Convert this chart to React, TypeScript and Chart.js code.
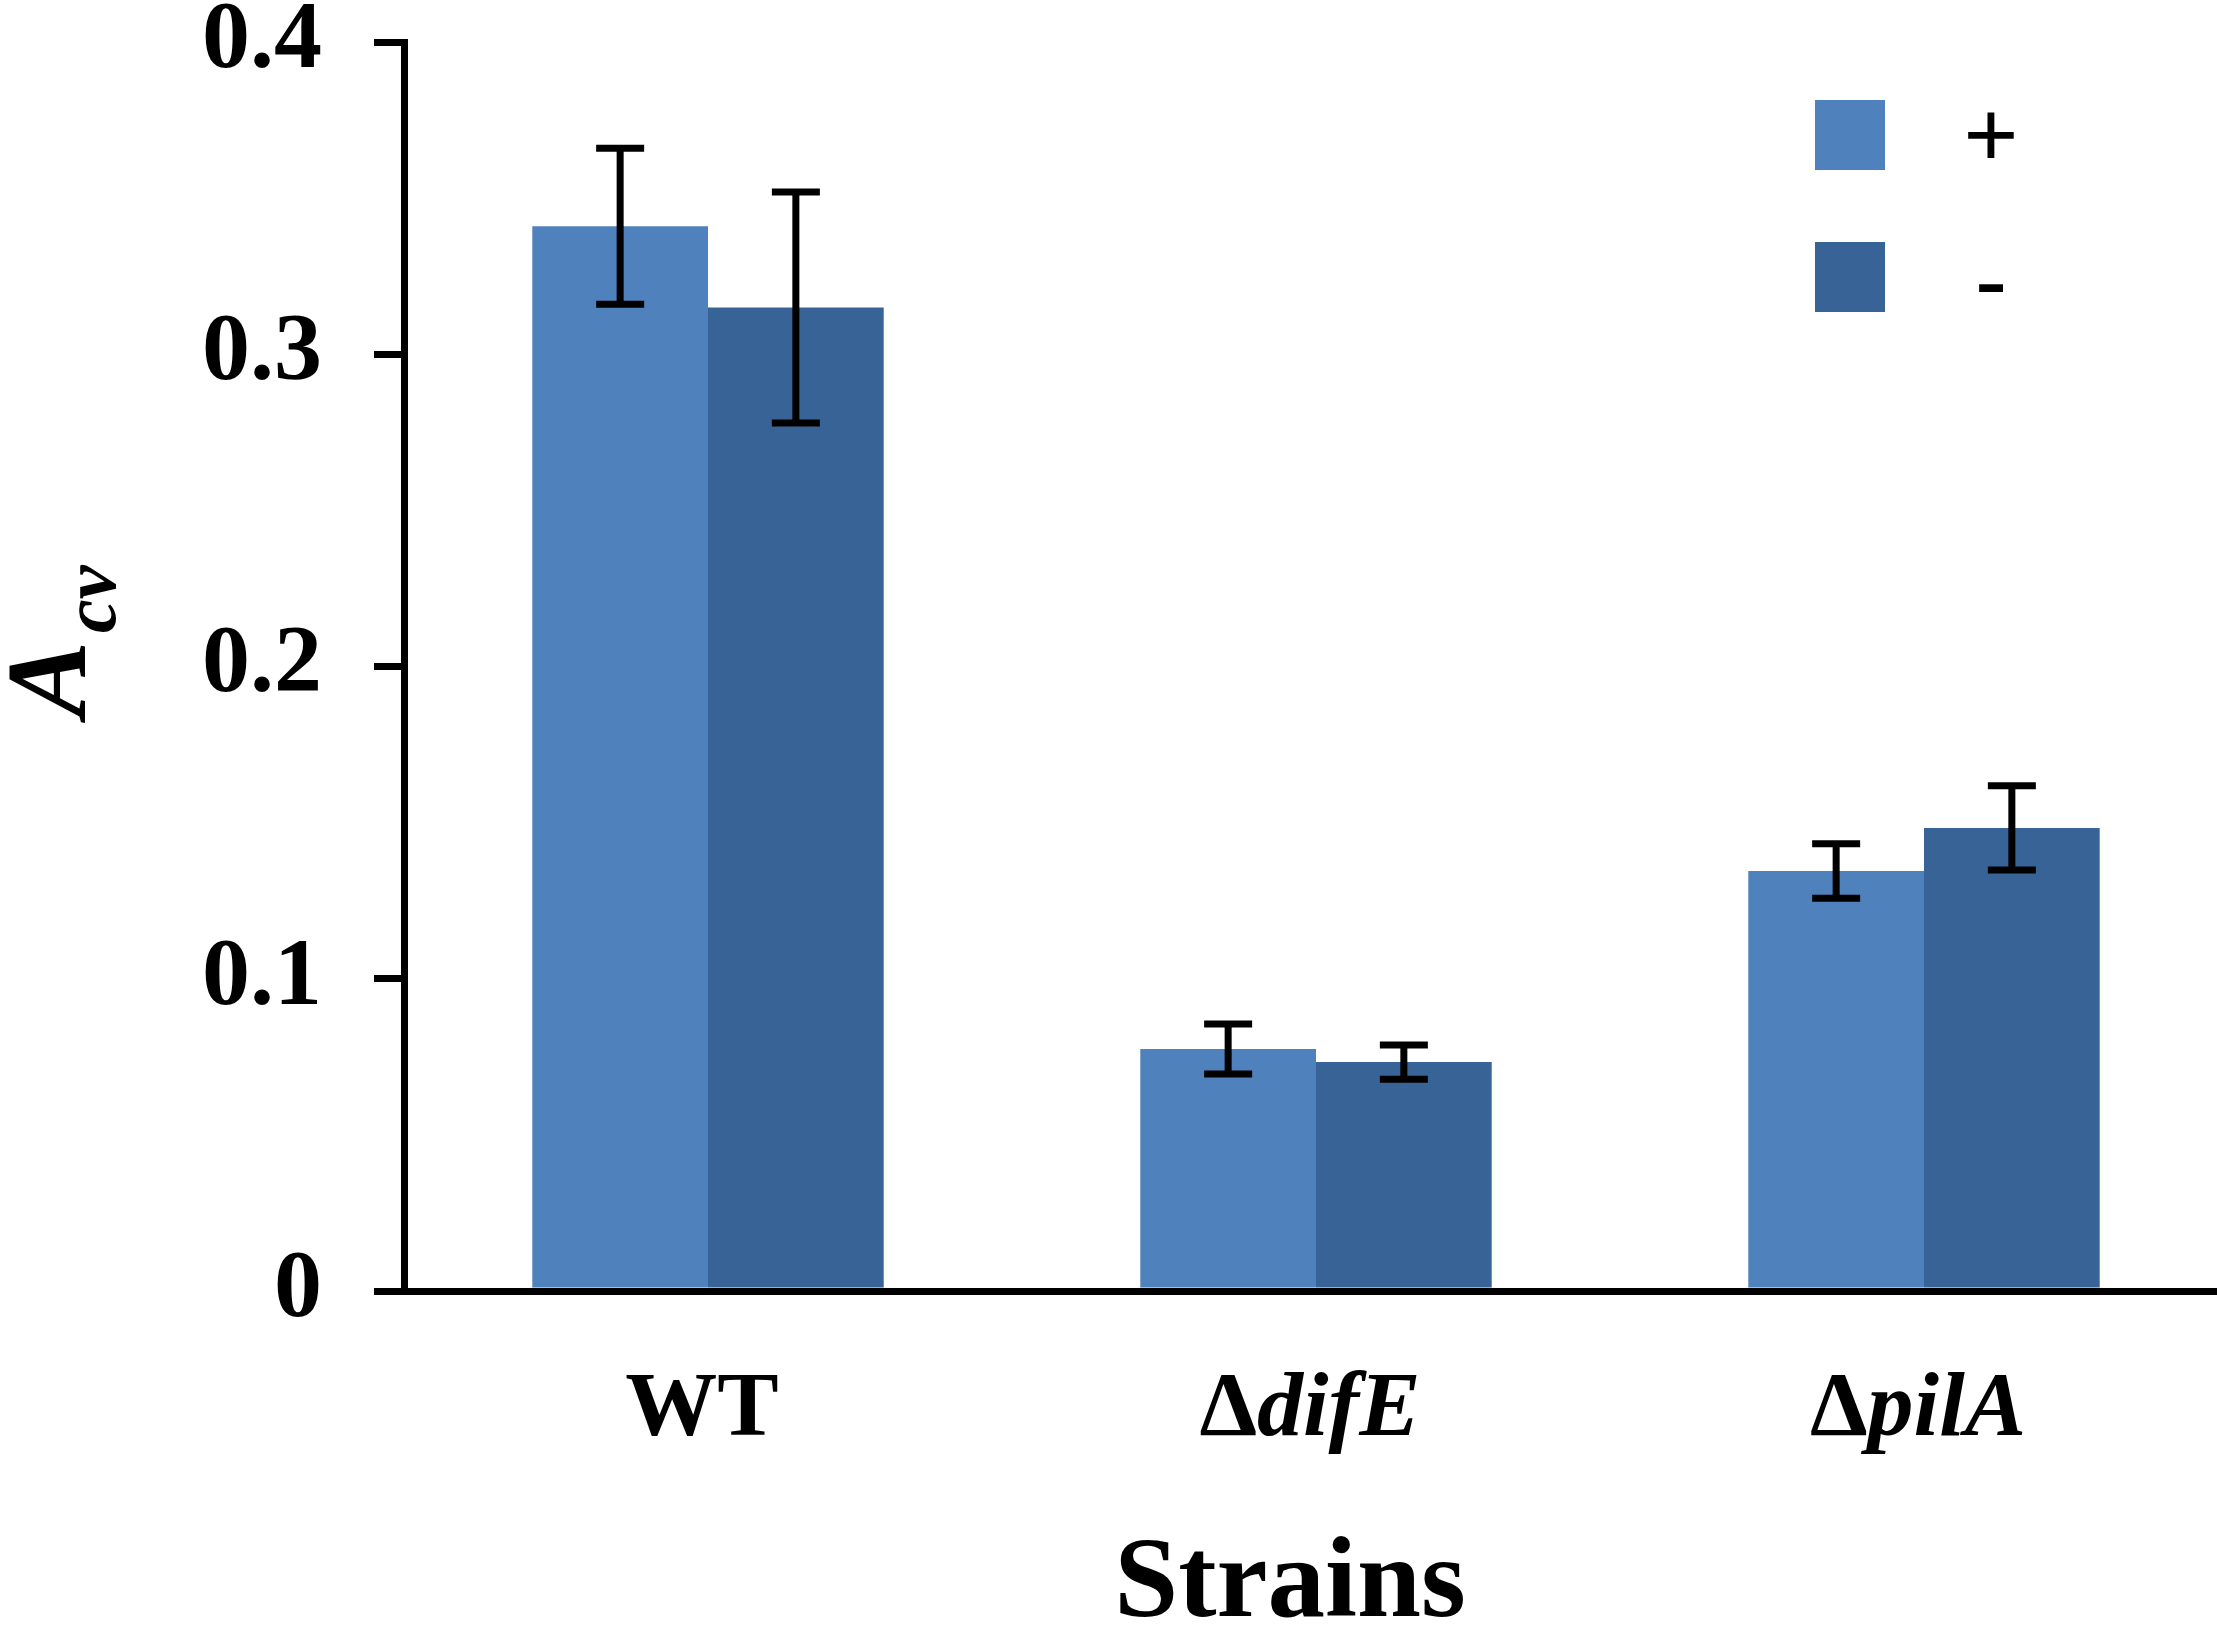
import { Chart, registerables } from "chart.js";
import React, { useEffect, useRef } from "react";

Chart.register(...registerables);

// values
const categories = ["WT", "ΔdifE", "ΔpilA"];
const seriesLabels = ["+", "-"];
const plusValues = [0.341, 0.0775, 0.1345];
const plusErrors = [0.025, 0.008, 0.0087];
const minusValues = [0.315, 0.0733, 0.1483];
const minusErrors = [0.037, 0.0055, 0.0135];
const seriesColors = ["#4F81BD", "#386396"];

const SERIF = '"Liberation Serif", "Times New Roman", serif';
const W = 2240;
const H = 1628;

const errorBars = {
  id: "errorBars",
  afterDatasetsDraw(chart: any) {
    const { ctx } = chart;
    const y = chart.scales.y;
    ctx.save();
    ctx.strokeStyle = "#000";
    ctx.lineWidth = 7;
    chart.data.datasets.forEach((ds: any, d: number) => {
      const meta = chart.getDatasetMeta(d);
      meta.data.forEach((bar: any, i: number) => {
        const v = ds.data[i];
        const e = ds.errors[i];
        const top = y.getPixelForValue(v + e);
        const bot = y.getPixelForValue(v - e);
        const x = bar.x;
        ctx.beginPath();
        ctx.moveTo(x, top);
        ctx.lineTo(x, bot);
        ctx.moveTo(x - 24, top);
        ctx.lineTo(x + 24, top);
        ctx.moveTo(x - 24, bot);
        ctx.lineTo(x + 24, bot);
        ctx.stroke();
      });
    });
    ctx.restore();
  },
};

// labels, axis titles and legend drawn by hand (mixed italic / subscript text)
const decorations = {
  id: "decorations",
  afterDraw(chart: any) {
    const { ctx, chartArea } = chart;
    const x = chart.scales.x;
    ctx.save();
    ctx.fillStyle = "#000";
    ctx.textBaseline = "alphabetic";
    ctx.textAlign = "left";

    // category labels: leading delta upright, gene name italic
    categories.forEach((label, i) => {
      const parts =
        label.startsWith("Δ")
          ? [
              { t: "Δ", f: `bold 92px ${SERIF}` },
              { t: label.slice(1), f: `italic bold 92px ${SERIF}` },
            ]
          : [{ t: label, f: `bold 92px ${SERIF}` }];
      let total = 0;
      parts.forEach((p) => {
        ctx.font = p.f;
        total += ctx.measureText(p.t).width;
      });
      let cx = x.getPixelForValue(i) - total / 2 - 6;
      parts.forEach((p) => {
        ctx.font = p.f;
        ctx.fillText(p.t, cx, chartArea.bottom + 144);
        cx += ctx.measureText(p.t).width;
      });
    });

    // x title
    ctx.font = `bold 115px ${SERIF}`;
    ctx.textAlign = "center";
    ctx.fillText("Strains", 1290, chartArea.bottom + 325);

    // y title A_cv
    ctx.save();
    ctx.translate(85, 717);
    ctx.rotate(-Math.PI / 2);
    ctx.textAlign = "left";
    ctx.font = `italic bold 114px ${SERIF}`;
    ctx.fillText("A", 0, 0);
    const aw = ctx.measureText("A").width;
    ctx.font = `italic bold 76px ${SERIF}`;
    ctx.fillText("cv", aw + 8, 30);
    ctx.restore();

    // legend
    chart.data.datasets.forEach((ds: any, i: number) => {
      const top = 100 + i * 142;
      ctx.fillStyle = ds.backgroundColor;
      ctx.fillRect(1815, top, 70, 70);
      ctx.fillStyle = "#000";
      ctx.font = `bold ${i === 0 ? 98 : 92}px ${SERIF}`;
      ctx.textAlign = "center";
      ctx.fillText(ds.label, 1991, top + (i === 0 ? 68 : 68));
    });
    ctx.restore();
  },
};

const BarChart = () => {
  const chartRef = useRef<HTMLCanvasElement | null>(null);

  useEffect(() => {
    if (chartRef.current) {
      const chart = new Chart(chartRef.current, {
        type: "bar",
        data: {
          labels: categories,
          datasets: [
            {
              label: seriesLabels[0],
              data: plusValues,
              errors: plusErrors,
              backgroundColor: seriesColors[0],
              borderWidth: 0,
            } as any,
            {
              label: seriesLabels[1],
              data: minusValues,
              errors: minusErrors,
              backgroundColor: seriesColors[1],
              borderWidth: 0,
            } as any,
          ],
        },
        options: {
          animation: false,
          responsive: false,
          devicePixelRatio: 1,
          layout: { padding: { top: 42, right: 12, left: 0, bottom: 0 } },
          plugins: {
            legend: { display: false },
            tooltip: { enabled: false },
          },
          datasets: {
            bar: { categoryPercentage: 0.578, barPercentage: 1 },
          },
          scales: {
            x: {
              grid: { display: false },
              border: { display: true, color: "#000", width: 7 },
              ticks: { display: false },
              afterFit: (scale: any) => {
                scale.height = 337;
                scale.paddingLeft = 0;
                scale.paddingRight = 0;
              },
            },
            y: {
              min: 0,
              max: 0.4,
              ticks: {
                stepSize: 0.1,
                color: "#000",
                padding: 52,
                font: { family: SERIF, size: 96, weight: "bold" },
              },
              grid: {
                drawOnChartArea: false,
                drawTicks: true,
                tickLength: 30,
                lineWidth: 7,
                color: "#000",
              },
              border: { display: true, color: "#000", width: 7 },
              afterFit: (scale: any) => {
                scale.width = 404;
                scale.paddingTop = 0;
                scale.paddingBottom = 0;
              },
            },
          },
        },
        plugins: [errorBars, decorations],
      });

      return () => chart.destroy();
    }
  }, []);

  return <canvas ref={chartRef} width={W} height={H}></canvas>;
};

export default function App() {
  return (
    <div
      style={{
        position: "absolute",
        left: 0,
        top: 0,
        width: 2217,
        height: H,
        overflow: "hidden",
        background: "#fff",
      }}
    >
      <BarChart />
    </div>
  );
}
